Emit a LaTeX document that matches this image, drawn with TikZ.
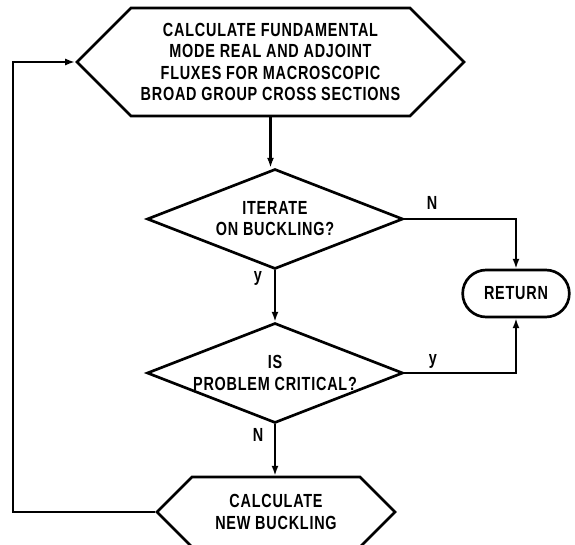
\documentclass[tikz,border=0pt]{standalone}
\usepackage{fontspec}
\setsansfont{Liberation Sans}[FakeStretch=0.76,LetterSpace=4]
\usepackage{tikz}
\usetikzlibrary{shapes.geometric,shapes.misc,shapes.symbols,arrows.meta}

\begin{document}
\begin{tikzpicture}[x=0.025cm,y=-0.025cm,line width=1.9pt,
  every node/.style={font=\sffamily\bfseries\fontsize{13.5}{15}\selectfont,align=center},
  hexbox/.style={draw,signal,signal to=east and west,signal pointer angle=90,inner sep=0pt},
  askbox/.style={draw,diamond,aspect=2.56,inner sep=0pt,minimum width=6.4cm,minimum height=2.5cm},
  endbox/.style={draw,rounded rectangle,minimum width=2.9cm,minimum height=1.175cm},
  arr/.style={-{Latex[length=7pt,width=5pt]}}]
\useasboundingbox (0,0) rectangle (575,545);
\node[hexbox,minimum width=9.675cm,minimum height=2.7cm] (calc) at (270.5,62)
  {CALCULATE FUNDAMENTAL\\MODE REAL AND ADJOINT\\FLUXES FOR MACROSCOPIC\\BROAD GROUP CROSS SECTIONS};
\node[askbox] (iter) at (275,219) {ITERATE\\ON BUCKLING?};
\node[askbox] (crit) at (275,373) {IS\\PROBLEM CRITICAL?};
\node[endbox] (ret) at (516,293.5) {RETURN};
\node[hexbox,minimum width=5.95cm,minimum height=1.75cm] (buck) at (276,512)
  {CALCULATE\\NEW BUCKLING};
\coordinate (loop) at (13,512);
\foreach \from/\to in {calc/iter,iter/crit,crit/buck}
  \draw[arr] (\from.south) -- (\from.south|-\to.north);
\draw[arr] (iter.east) -| (ret.north);
\draw[arr] (crit.east) -| (ret.south);
\draw[arr] (buck.west) -- (loop) |- (calc.west);
\node at (432,203) {N};
\node at (258,278) {y};
\node at (433,361) {y};
\node at (258,435) {N};
\end{tikzpicture}
\end{document}
